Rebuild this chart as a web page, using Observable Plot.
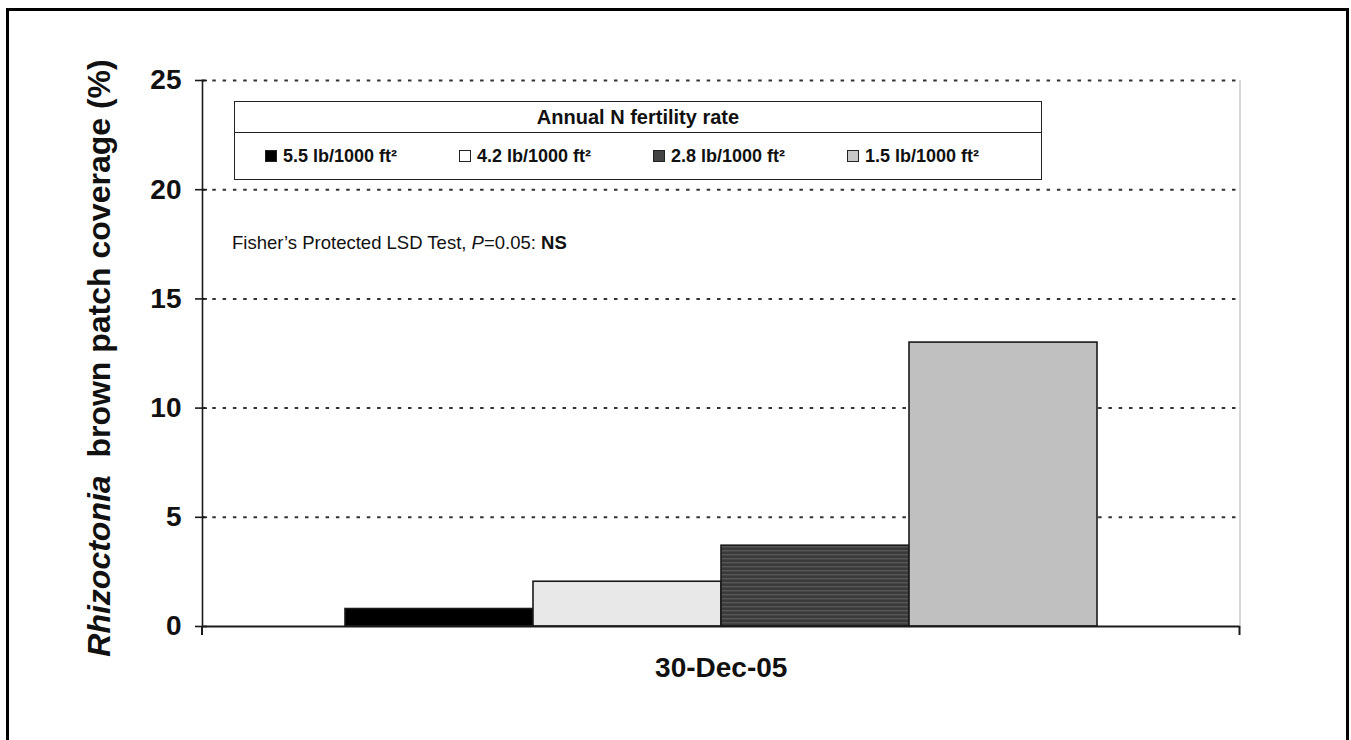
<!DOCTYPE html>
<html>
<head>
<meta charset="utf-8">
<script src="https://cdn.jsdelivr.net/npm/d3@7"></script>
<script src="https://cdn.jsdelivr.net/npm/@observablehq/plot@0.6"></script>
<style>
  html, body { margin: 0; padding: 0; background: #fff; overflow: hidden; }
  body { width: 1351px; height: 740px; position: relative; font-family: "Liberation Sans", Arial, sans-serif; }
  #wrap { position: absolute; left: 0; top: 0; width: 1351px; height: 740px; }
  #outer { position: absolute; left: 6px; top: 8px; width: 1343px; height: 800px; border: 3px solid #000; box-sizing: border-box; pointer-events: none; }
  #ylabel { position: absolute; left: 99px; top: 358px; transform: translate(-50%, -50%) rotate(-90deg); white-space: pre; font-size: 32px; font-weight: bold; color: #111; }
  #legend { position: absolute; left: 234px; top: 101px; width: 808px; height: 79px; border: 1.5px solid #222; box-sizing: border-box; background: #fff; }
  #legend .title { height: 30px; line-height: 30px; text-align: center; font-size: 20px; font-weight: bold; border-bottom: 1.5px solid #222; color: #111; }
  #legend .items { display: flex; padding-left: 30px; height: 46px; align-items: center; }
  #legend .item { width: 202px; display: flex; align-items: center; font-size: 18px; font-weight: bold; color: #111; white-space: nowrap; }
  #legend .sw { width: 12px; height: 12px; border: 1px solid #222; box-sizing: border-box; margin-right: 6px; display: inline-block; }
  #note { position: absolute; left: 232px; top: 232px; font-size: 18.5px; color: #111; white-space: nowrap; }
</style>
</head>
<body>
<div id="wrap"></div>
<script>
// ---- data ----
const category = ["30-Dec-05"];
const series = ["5.5 lb/1000 ft²", "4.2 lb/1000 ft²", "2.8 lb/1000 ft²", "1.5 lb/1000 ft²"];
const values = [0.8, 2.05, 3.7, 13.0];
const barFills = ["#000000", "#e8e8e8", "url(#stripes)", "#c0c0c0"];
const swatchFills = ["#000000", "#ffffff", "#444444", "#c8c8c8"];
const yTicks = [0, 5, 10, 15, 20, 25];
const legendTitle = "Annual N fertility rate";
const yLabelItalic = "Rhizoctonia";
const yLabelRest = "  brown patch coverage (%)";
const noteParts = ["Fisher\u2019s Protected LSD Test, ", "P", "=0.05: ", "NS"];

const data = series.map((s, i) => ({series: s, value: values[i], date: category[0]}));

const plot = Plot.plot({
  width: 1351,
  height: 740,
  marginLeft: 202,
  marginRight: 111.5,
  marginTop: 80,
  marginBottom: 114,
  style: {fontFamily: "'Liberation Sans', Arial, sans-serif", background: "transparent", overflow: "visible"},
  x: {type: "band", domain: series, paddingOuter: 0.75, paddingInner: 0, axis: null},
  y: {domain: [0, 25], ticks: yTicks},
  color: {type: "ordinal", domain: series, range: barFills},
  marks: [
    Plot.gridY(yTicks.filter(d => d > 0), {stroke: "#333", strokeOpacity: 1, strokeWidth: 2, strokeDasharray: "3.5,6.8"}),
    Plot.frame({anchor: "right", stroke: "#bdbdbd", strokeWidth: 1.2}),
    Plot.barY(data, {x: "series", y: "value", fill: "series", stroke: "#1a1a1a", strokeWidth: 1.6}),
    Plot.frame({anchor: "left", stroke: "#1a1a1a", strokeWidth: 1.6}),
    Plot.ruleY([0], {stroke: "#1a1a1a", strokeWidth: 2}),
    Plot.axisY(yTicks, {tickSize: 12, dx: 5, text: null, stroke: "#1a1a1a", strokeWidth: 1.6, label: null}),
    Plot.axisY(yTicks, {tickSize: 0, tickPadding: 21, fontSize: 28, fontWeight: "bold", fill: "#111", label: null}),
    Plot.text(category, {frameAnchor: "bottom", dy: 50, fontSize: 28, fontWeight: "bold", fill: "#111"})
  ]
});

// stripes pattern for the 2.8 rate bar
const ns = "http://www.w3.org/2000/svg";
const defs = document.createElementNS(ns, "defs");
defs.innerHTML = `<pattern id="stripes" patternUnits="userSpaceOnUse" width="8" height="4">
  <rect width="8" height="4" fill="#3a3a3a"></rect>
  <rect y="2" width="8" height="1.4" fill="#575757"></rect></pattern>`;
plot.insertBefore(defs, plot.firstChild);

// category boundary ticks on the x axis, from the library's x and y scales
const xs = plot.scale("x"), ys = plot.scale("y");
const y0 = ys.apply(0);
const g = document.createElementNS(ns, "g");
for (const xb of [xs.range[0], xs.range[1]]) {
  const l = document.createElementNS(ns, "line");
  l.setAttribute("x1", xb); l.setAttribute("x2", xb);
  l.setAttribute("y1", y0); l.setAttribute("y2", y0 + 9);
  l.setAttribute("stroke", "#1a1a1a"); l.setAttribute("stroke-width", 2);
  g.appendChild(l);
}
plot.appendChild(g);

const wrap = document.getElementById("wrap");
wrap.appendChild(plot);

// y label
const yl = document.createElement("div");
yl.id = "ylabel";
const it = document.createElement("i"); it.textContent = yLabelItalic;
yl.appendChild(it);
yl.appendChild(document.createTextNode(yLabelRest));
wrap.appendChild(yl);

// legend
const lg = document.createElement("div");
lg.id = "legend";
const t = document.createElement("div"); t.className = "title"; t.textContent = legendTitle;
lg.appendChild(t);
const items = document.createElement("div"); items.className = "items";
series.forEach((s, i) => {
  const it = document.createElement("div"); it.className = "item";
  const sw = document.createElement("span"); sw.className = "sw"; sw.style.background = swatchFills[i];
  it.appendChild(sw);
  it.appendChild(document.createTextNode(s));
  items.appendChild(it);
});
lg.appendChild(items);
wrap.appendChild(lg);

// note
const note = document.createElement("div");
note.id = "note";
note.appendChild(document.createTextNode(noteParts[0]));
const pi = document.createElement("i"); pi.textContent = noteParts[1]; note.appendChild(pi);
note.appendChild(document.createTextNode(noteParts[2]));
const nb = document.createElement("b"); nb.textContent = noteParts[3]; note.appendChild(nb);
wrap.appendChild(note);

const outer = document.createElement("div"); outer.id = "outer";
wrap.appendChild(outer);
</script>
</body>
</html>
